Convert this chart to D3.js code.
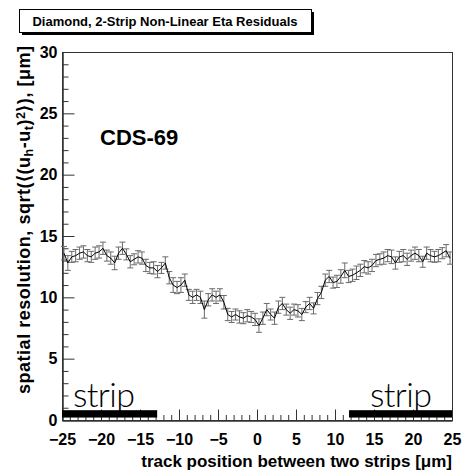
<!DOCTYPE html>
<meta charset="utf-8">
<style>
body { margin: 0; background: #fff; }
svg text { font-family: "Liberation Sans", Arial, sans-serif; font-weight: bold; fill: #000; }
.strip { font-family: "Lato", "Open Sans", sans-serif; font-weight: 300; }
</style>
<body>
<script src="https://d3js.org/d3.v7.min.js"></script>
<script>

var width = 470,
    height = 473,
    margin = {top: 52, right: 18, bottom: 53, left: 62};

// 100 bins of 0.5 um between two strips
var binCenters = d3.range(-24.75, 25, 0.5);

var resolution = [
  13.6, 12.8, 13.3, 13.4, 13.6, 13.7, 13.4, 13.3, 13.6, 13.7,
  14.0, 13.4, 13.2, 12.8, 13.6, 14.0, 13.5, 12.9, 13.1, 13.3,
  13.2, 12.6, 12.4, 12.4, 12.1, 12.4, 12.8, 11.6, 11.0, 10.8,
  11.0, 11.4, 10.2, 10.0, 10.2, 10.0, 9.0, 9.8, 10.2, 10.0,
  10.2, 9.6, 8.6, 8.4, 8.6, 8.4, 8.3, 8.5, 8.4, 8.2,
  7.7, 8.3, 9.0, 8.6, 8.3, 9.2, 9.5, 9.0, 8.7, 9.0,
  8.9, 8.6, 9.2, 9.5, 9.1, 9.9, 10.4, 11.4, 11.7, 11.2,
  11.3, 11.7, 12.2, 11.7, 11.8, 12.0, 12.2, 12.5, 12.4, 12.6,
  13.0, 13.1, 13.2, 13.4, 13.3, 12.8, 13.3, 13.4, 13.1, 13.4,
  13.6, 13.4, 12.9, 13.6, 13.4, 13.3, 13.4, 13.6, 13.8, 13.2
];

var errors = [
  0.55, 0.6, 0.45, 0.5, 0.5, 0.5, 0.5, 0.45, 0.5, 0.5,
  0.5, 0.45, 0.5, 0.55, 0.5, 0.5, 0.45, 0.5, 0.45, 0.5,
  0.5, 0.5, 0.45, 0.5, 0.5, 0.45, 0.5, 0.5, 0.6, 0.5,
  0.6, 0.5, 0.45, 0.5, 0.45, 0.5, 0.7, 0.5, 0.5, 0.5,
  0.5, 0.55, 0.5, 0.45, 0.45, 0.5, 0.45, 0.5, 0.45, 0.5,
  0.55, 0.5, 0.5, 0.45, 0.5, 0.5, 0.5, 0.45, 0.5, 0.45,
  0.5, 0.5, 0.45, 0.5, 0.45, 0.5, 0.5, 0.5, 0.5, 0.45,
  0.5, 0.55, 0.6, 0.5, 0.5, 0.55, 0.5, 0.5, 0.5, 0.5,
  0.5, 0.45, 0.5, 0.5, 0.55, 0.5, 0.45, 0.5, 0.5, 0.45,
  0.5, 0.5, 0.45, 0.5, 0.5, 0.45, 0.5, 0.45, 0.5, 0.5
];

var xTicks = [-25, -20, -15, -10, -5, 0, 5, 10, 15, 20, 25];
var yTicks = [0, 5, 10, 15, 20, 25, 30];

// strip metal extents [from, to] in um
var stripBars = [[-25, -12.8], [11.8, 25]];
var stripText = ["strip", "strip"];

var title = "Diamond, 2-Strip Non-Linear Eta Residuals";
var label = "CDS-69";
var xTitle = "track position between two strips [\u03bcm]";

var svg = d3.select("body").append("svg")
    .attr("width", width)
    .attr("height", height);

var x = d3.scaleLinear()
    .domain([-25, 25])
    .range([margin.left, width - margin.right]);

var y = d3.scaleLinear()
    .domain([0, 30])
    .range([height - margin.bottom, margin.top]);

// title box with shadow
svg.append("rect")
    .attr("x", 22).attr("y", 12)
    .attr("width", 292).attr("height", 23)
    .attr("fill", "#000");
svg.append("rect")
    .attr("x", 19.5).attr("y", 9.5)
    .attr("width", 292).attr("height", 23)
    .attr("fill", "#fff")
    .attr("stroke", "#000");
svg.append("text")
    .attr("x", 165).attr("y", 25.5)
    .attr("text-anchor", "middle")
    .style("font-size", "13px")
    .text(title);

// frame
svg.append("rect")
    .attr("x", x(-25) + 0.5).attr("y", y(30) + 0.5)
    .attr("width", x(25) - x(-25)).attr("height", y(0) - y(30))
    .attr("fill", "none")
    .attr("stroke", "#333");

// axes
var minorY = d3.range(0, 31).filter(function(d) { return d % 5; });
var minorX = d3.range(-25, 26).filter(function(d) { return d % 5; });

function styleAxis(g) {
  g.select(".domain").attr("stroke", "#333");
  g.selectAll(".tick line").attr("stroke", "#333");
  g.selectAll("text").style("font-size", "16px").attr("font-family", null);
}

svg.append("g")
    .attr("transform", "translate(" + (x(-25) + 0.5) + ",0)")
    .call(d3.axisLeft(y).tickValues(yTicks).tickSize(-12).tickSizeOuter(0).tickPadding(5))
    .call(styleAxis);
svg.append("g")
    .attr("transform", "translate(" + (x(-25) + 0.5) + ",0)")
    .call(d3.axisLeft(y).tickValues(minorY).tickSize(-6).tickSizeOuter(0).tickFormat(""))
    .call(styleAxis);

svg.append("g")
    .attr("transform", "translate(0," + (y(0) + 0.5) + ")")
    .call(d3.axisBottom(x).tickValues(xTicks).tickSize(-11).tickSizeOuter(0).tickPadding(13))
    .call(styleAxis);
svg.append("g")
    .attr("transform", "translate(0," + (y(0) + 0.5) + ")")
    .call(d3.axisBottom(x).tickValues(minorX).tickSize(-5.5).tickSizeOuter(0).tickFormat(""))
    .call(styleAxis);

// axis titles
svg.append("text")
    .attr("x", x(25)).attr("y", 467)
    .attr("text-anchor", "end")
    .style("font-size", "17px")
    .text(xTitle);

var yt = svg.append("text")
    .attr("transform", "translate(30," + 46 + ") rotate(-90)")
    .attr("text-anchor", "end")
    .attr("textLength", 348)
    .attr("lengthAdjust", "spacing")
    .style("font-size", "18px");
yt.append("tspan").text("spatial resolution, sqrt(\u27e8(u");
yt.append("tspan").attr("baseline-shift", "-25%").style("font-size", "12.5px").text("h");
yt.append("tspan").text("-u");
yt.append("tspan").attr("baseline-shift", "-25%").style("font-size", "12.5px").text("t");
yt.append("tspan").text(")");
yt.append("tspan").attr("baseline-shift", "40%").style("font-size", "12.5px").text("2");
yt.append("tspan").text("\u27e9), [\u03bcm]");

// detector label
svg.append("text")
    .attr("x", 100).attr("y", 145)
    .style("font-size", "22px")
    .text(label);

// strips
svg.selectAll(".stripbar")
    .data(stripBars)
  .enter().append("rect")
    .attr("class", "stripbar")
    .attr("x", function(d) { return x(d[0]); })
    .attr("width", function(d) { return x(d[1]) - x(d[0]); })
    .attr("y", y(0.8))
    .attr("height", y(0.2) - y(0.8))
    .attr("fill", "#000");

svg.selectAll(".strip")
    .data(stripText)
  .enter().append("text")
    .attr("class", "strip")
    .attr("x", function(d, i) { return i ? 370 : 73; })
    .attr("y", 407)
    .attr("textLength", 62)
    .style("font-size", "34px")
    .text(function(d) { return d; });

// error bars
var bars = svg.append("g")
    .attr("stroke", "#6a6a6a")
    .attr("stroke-width", 1);

binCenters.forEach(function(c, i) {
  var px = x(c),
      lo = y(resolution[i] - errors[i]),
      hi = y(resolution[i] + errors[i]);
  bars.append("line").attr("x1", px).attr("x2", px).attr("y1", lo).attr("y2", hi);
  bars.append("line").attr("x1", px - 3).attr("x2", px + 3).attr("y1", lo).attr("y2", lo);
  bars.append("line").attr("x1", px - 3).attr("x2", px + 3).attr("y1", hi).attr("y2", hi);
});

var line = d3.line()
    .x(function(d) { return x(d[0]); })
    .y(function(d) { return y(d[1]); });

svg.append("path")
    .datum(d3.zip(binCenters, resolution))
    .attr("d", line)
    .attr("fill", "none")
    .attr("stroke", "#000")
    .attr("stroke-width", 1);

</script>
